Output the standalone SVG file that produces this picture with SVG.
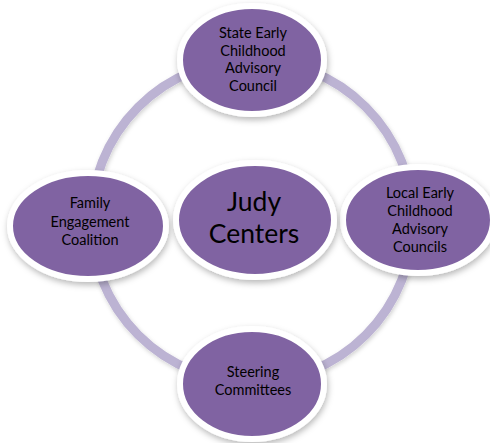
<svg xmlns="http://www.w3.org/2000/svg" width="490" height="443" viewBox="0 0 490 443">
  <defs>
    <filter id="sh" x="-20%" y="-20%" width="140%" height="150%">
      <feDropShadow dx="1" dy="3" stdDeviation="3" flood-color="#000" flood-opacity="0.28"/>
    </filter>
    <filter id="rsh" x="-10%" y="-10%" width="120%" height="120%">
      <feDropShadow dx="1" dy="2" stdDeviation="2" flood-color="#000" flood-opacity="0.18"/>
    </filter>
  </defs>
  <style>
    .node { fill: #8064a2; stroke: #ffffff; stroke-width: 6; filter: url(#sh); }
    .lbl { font-family: Lato, "Open Sans", "Liberation Sans", sans-serif; font-size: 14.5px; fill: #000; text-anchor: middle; }
    .big { font-size: 26.5px; }
    .ring { fill: none; stroke: #bcb3d3; stroke-width: 9; filter: url(#rsh); }
  </style>
  <rect width="490" height="443" fill="#ffffff"/>
  <g id="connectors">
    <circle class="ring" cx="252" cy="221" r="161"/>
  </g>
  <g id="node-state">
    <ellipse class="node" cx="252" cy="60" rx="72" ry="54"/>
    <text class="lbl" x="253" y="38">State Early</text>
    <text class="lbl" x="253" y="55.5">Childhood</text>
    <text class="lbl" x="253" y="73">Advisory</text>
    <text class="lbl" x="253" y="90.5">Council</text>
  </g>
  <g id="node-local">
    <ellipse class="node" cx="418" cy="220" rx="75" ry="53"/>
    <text class="lbl" x="420" y="198">Local Early</text>
    <text class="lbl" x="420" y="216">Childhood</text>
    <text class="lbl" x="420" y="234">Advisory</text>
    <text class="lbl" x="420" y="252">Councils</text>
  </g>
  <g id="node-steering">
    <ellipse class="node" cx="252" cy="384" rx="72" ry="55"/>
    <text class="lbl" x="253" y="377">Steering</text>
    <text class="lbl" x="253" y="395">Committees</text>
  </g>
  <g id="node-family">
    <ellipse class="node" cx="88" cy="226" rx="78" ry="53"/>
    <text class="lbl" x="90" y="208">Family</text>
    <text class="lbl" x="90" y="227">Engagement</text>
    <text class="lbl" x="90" y="245">Coalition</text>
  </g>
  <g id="node-judy">
    <ellipse class="node" cx="255" cy="220" rx="79" ry="57"/>
    <text class="lbl big" x="254" y="211">Judy</text>
    <text class="lbl big" x="254" y="243">Centers</text>
  </g>
</svg>
